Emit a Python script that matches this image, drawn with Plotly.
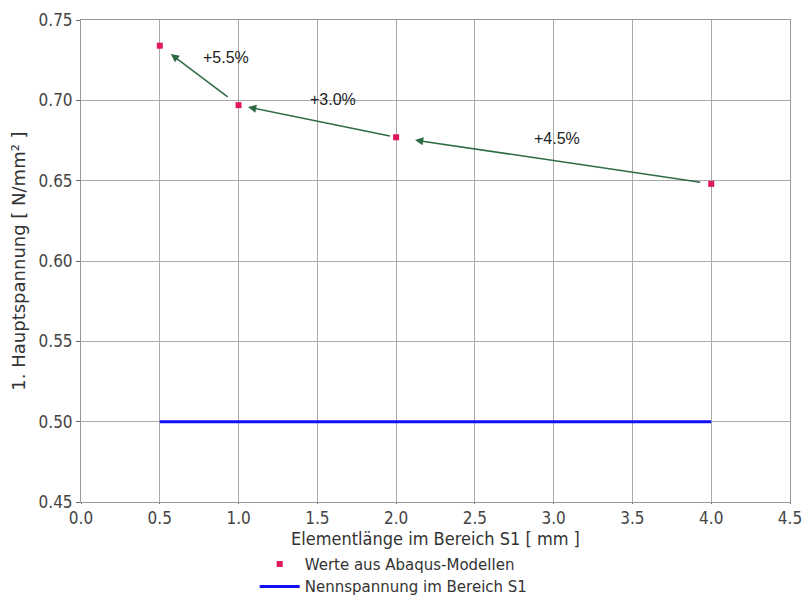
import plotly.graph_objects as go

elem_len = [0.5, 1.0, 2.0, 4.0]
stress = [0.734, 0.697, 0.677, 0.648]
nominal_x = [0.5, 4.0]
nominal_y = [0.5, 0.5]
arrow_labels = ["+5.5%", "+3.0%", "+4.5%"]
label_pos_x = [0.92, 1.6, 3.02]
label_pos_y = [0.7265, 0.7005, 0.6765]

fig = go.Figure()
fig.add_trace(go.Scatter(x=elem_len, y=stress, mode="markers", name="Werte aus Abaqus-Modellen",
                         marker=dict(symbol="square", size=6, color="#e0195a")))
fig.add_trace(go.Scatter(x=nominal_x, y=nominal_y, mode="lines", name="Nennspannung im Bereich S1",
                         line=dict(color="#1010f0", width=3)))

for i in range(len(elem_len) - 1):
    x0, y0 = elem_len[i + 1], stress[i + 1]
    x1, y1 = elem_len[i], stress[i]
    dx, dy = x1 - x0, y1 - y0
    f_head = 0.14 if i == 0 else 0.06
    f_tail = 0.12 if i == 0 else 0.03
    fig.add_annotation(x=x1 - dx * f_head, y=y1 - dy * f_head,
                       ax=x0 + dx * f_tail, ay=y0 + dy * f_tail,
                       xref="x", yref="y", axref="x", ayref="y",
                       showarrow=True, arrowhead=2, arrowsize=1.1, arrowwidth=1.5,
                       arrowcolor="#2e6b45", text="")
for t, lx, ly in zip(arrow_labels, label_pos_x, label_pos_y):
    fig.add_annotation(x=lx, y=ly, text=t, showarrow=False,
                       font=dict(family="Liberation Sans, Arial", size=16, color="#222"))

fig.update_layout(
    width=804, height=596,
    margin=dict(l=81, r=14, t=20, b=94, autoexpand=False),
    paper_bgcolor="white", plot_bgcolor="white",
    font=dict(family="DejaVu Sans Condensed, DejaVu Sans", color="#333"),
    showlegend=True,
    legend=dict(x=0.245, y=-0.095, xanchor="left", yanchor="top", orientation="v",
                font=dict(family="DejaVu Sans", size=15, color="#333"),
                tracegroupgap=0, itemwidth=40, bgcolor="rgba(0,0,0,0)"),
)
fig.update_xaxes(range=[0, 4.5], dtick=0.5, tickformat=".1f",
                 showgrid=True, gridcolor="#aaaaaa", gridwidth=1,
                 showline=True, linecolor="#999", mirror=True, zeroline=False,
                 ticks="outside", ticklen=1, tickcolor="#666", automargin=False,
                 tickfont=dict(size=17, family="DejaVu Sans Condensed", color="#444"),
                 title=dict(text="Elementlänge im Bereich S1 [ mm ]", standoff=0,
                            font=dict(size=18, family="DejaVu Sans Condensed", color="#333")))
fig.update_yaxes(range=[0.45, 0.75], dtick=0.05, tickformat=".2f",
                 showgrid=True, gridcolor="#aaaaaa", gridwidth=1,
                 showline=True, linecolor="#999", mirror=True, zeroline=False,
                 ticks="outside", ticklen=4, tickcolor="#666", automargin=False,
                 tickfont=dict(size=17, family="DejaVu Sans Condensed", color="#444"),
                 title=dict(text="1. Hauptspannung [ N/mm² ]", standoff=8,
                            font=dict(size=18, family="DejaVu Sans", color="#333")))

fig.write_html("out.html")
